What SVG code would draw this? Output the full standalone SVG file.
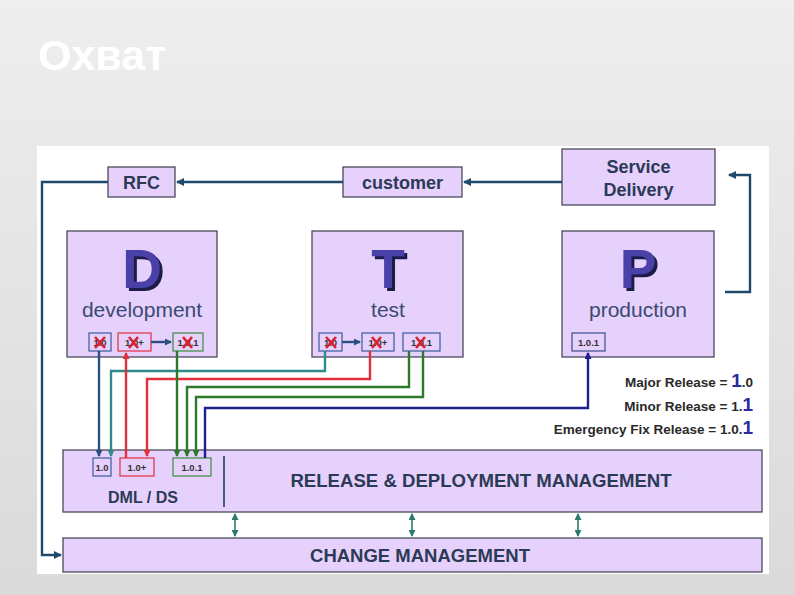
<svg xmlns="http://www.w3.org/2000/svg" width="794" height="595" viewBox="0 0 794 595">
<defs>
<linearGradient id="bg" x1="0" y1="0" x2="0" y2="1">
<stop offset="0" stop-color="#eeeeee"/>
<stop offset="1" stop-color="#dadada"/>
</linearGradient>
<filter id="shadow" x="-20%" y="-20%" width="150%" height="150%">
<feOffset in="SourceAlpha" dx="3" dy="3" result="o"/>
<feFlood flood-color="#1c1c48"/>
<feComposite in2="o" operator="in" result="s"/>
<feMerge><feMergeNode in="s"/><feMergeNode in="SourceGraphic"/></feMerge>
</filter>
<marker id="aNavy" markerWidth="8" markerHeight="8" refX="7" refY="4" orient="auto" markerUnits="userSpaceOnUse"><path d="M0,0 L8,4 L0,8 z" fill="#1f4a6e"/></marker>
<marker id="aBlue" markerWidth="7" markerHeight="7" refX="6" refY="3.5" orient="auto" markerUnits="userSpaceOnUse"><path d="M0,0 L7,3.5 L0,7 z" fill="#2a4f80"/></marker>
<marker id="aTeal" markerWidth="7" markerHeight="7" refX="6" refY="3.5" orient="auto" markerUnits="userSpaceOnUse"><path d="M0,0 L7,3.5 L0,7 z" fill="#2f8a8c"/></marker>
<marker id="aRed" markerWidth="7" markerHeight="7" refX="6" refY="3.5" orient="auto" markerUnits="userSpaceOnUse"><path d="M0,0 L7,3.5 L0,7 z" fill="#e0303a"/></marker>
<marker id="aGreen" markerWidth="7" markerHeight="7" refX="6" refY="3.5" orient="auto" markerUnits="userSpaceOnUse"><path d="M0,0 L7,3.5 L0,7 z" fill="#2a7a2a"/></marker>
<marker id="aInd" markerWidth="7" markerHeight="7" refX="6" refY="3.5" orient="auto" markerUnits="userSpaceOnUse"><path d="M0,0 L7,3.5 L0,7 z" fill="#1e1e8c"/></marker>
<marker id="aDT" markerWidth="7" markerHeight="7" refX="6" refY="3.5" orient="auto" markerUnits="userSpaceOnUse"><path d="M0,0 L7,3.5 L0,7 z" fill="#2a7a6e"/></marker>
<marker id="aDTs" markerWidth="7" markerHeight="7" refX="1" refY="3.5" orient="auto" markerUnits="userSpaceOnUse"><path d="M7,0 L0,3.5 L7,7 z" fill="#2a7a6e"/></marker>
</defs>
<style>
.box{fill:#e6d0fc;stroke:#4a4a5a;stroke-width:1.3}
.lbl{font-family:"Liberation Sans",Arial,sans-serif;font-weight:bold;fill:#2b3a55;text-anchor:middle}
.big{font-family:"Liberation Sans",Arial,sans-serif;font-weight:bold;font-size:55px;text-anchor:middle;fill:#4a3fa8;filter:url(#shadow)}
.sub{font-family:"Liberation Sans",Arial,sans-serif;font-size:21px;text-anchor:middle;fill:#3a4a72}
.tag{stroke-width:1.2;fill:#e6d0fc}
.tt{font-family:"Liberation Sans",Arial,sans-serif;font-weight:bold;font-size:9.5px;text-anchor:middle;fill:#333}
.x{stroke:#d8232e;stroke-width:2.6;fill:none}
.leg{font-family:"Liberation Sans",Arial,sans-serif;font-weight:bold;font-size:13.5px;text-anchor:end;fill:#2a2a2a}
.one{font-size:19px;fill:#2a2aa0}
.c{fill:none;stroke-width:2.4}
</style>
<rect width="794" height="595" fill="url(#bg)"/>
<text x="38" y="70" font-family="'Liberation Sans',Arial,sans-serif" font-weight="bold" font-size="43" fill="#ffffff">Охват</text>
<rect x="37" y="146" width="732" height="428" fill="#ffffff"/>

<g id="rfc"><rect class="box" x="108" y="167" width="67" height="30"/><text class="lbl" x="141.5" y="189" font-size="18">RFC</text></g>
<g id="customer"><rect class="box" x="343" y="167" width="119" height="30"/><text class="lbl" x="402.5" y="189" font-size="18">customer</text></g>
<g id="service-delivery"><rect class="box" x="562" y="149" width="153" height="56"/><text class="lbl" x="638.5" y="173" font-size="18">Service</text><text class="lbl" x="638.5" y="196" font-size="18">Delivery</text></g>

<g id="development"><rect class="box" x="67" y="231" width="150" height="126"/>
<text class="big" x="142" y="288">D</text>
<text class="sub" x="142" y="317">development</text></g>
<g id="test"><rect class="box" x="312" y="231" width="151" height="126"/>
<text class="big" x="388" y="288">T</text>
<text class="sub" x="388" y="317">test</text></g>
<g id="production"><rect class="box" x="562" y="231" width="152" height="126"/>
<text class="big" x="638" y="288">P</text>
<text class="sub" x="638" y="317">production</text></g>

<g id="rdm"><rect class="box" x="63" y="450" width="699" height="62"/>
<line x1="224" y1="456" x2="224" y2="507" stroke="#4a5a80" stroke-width="2"/>
<text class="lbl" x="481" y="487" font-size="18.6">RELEASE &amp; DEPLOYMENT MANAGEMENT</text>
<text class="lbl" x="143" y="503" font-size="16">DML / DS</text></g>
<g id="change-management"><rect class="box" x="63" y="538" width="699" height="34"/>
<text class="lbl" x="420" y="562" font-size="18.5">CHANGE MANAGEMENT</text></g>

<g id="tags">
<rect class="tag" x="89" y="333" width="22" height="18" stroke="#3b5b9a"/><text class="tt" x="100" y="345.5">1.0</text><path class="x" d="M95,337 L105,348 M105,337 L95,348"/>
<rect class="tag" x="118" y="333" width="33" height="18" stroke="#e0303a"/><text class="tt" x="134.5" y="345.5">1.0+</text><path class="x" d="M129,337 L138,348 M138,337 L129,348"/>
<rect class="tag" x="173" y="333" width="30" height="18" stroke="#3a8a3a"/><text class="tt" x="188" y="345.5">1.0.1</text><path class="x" d="M183,337 L192,348 M192,337 L183,348"/>
<rect class="tag" x="319" y="333" width="23" height="18" stroke="#3b5b9a"/><text class="tt" x="330.5" y="345.5">1.0</text><path class="x" d="M326,337 L336,348 M336,337 L326,348"/>
<rect class="tag" x="362" y="333" width="32" height="18" stroke="#3b5b9a"/><text class="tt" x="378" y="345.5">1.0+</text><path class="x" d="M372,337 L381,348 M381,337 L372,348"/>
<rect class="tag" x="403" y="333" width="37" height="18" stroke="#3b5b9a"/><text class="tt" x="421.5" y="345.5">1.0.1</text><path class="x" d="M416,337 L425,348 M425,337 L416,348"/>
<rect class="tag" x="572" y="333" width="33" height="18" stroke="#3b4b8a"/><text class="tt" x="588.5" y="345.5">1.0.1</text>
<rect class="tag" x="93" y="458" width="18" height="18" stroke="#3b5b9a"/><text class="tt" x="102" y="470.5">1.0</text>
<rect class="tag" x="120" y="458" width="34" height="18" stroke="#e0303a"/><text class="tt" x="137" y="470.5" fill="#d8232e">1.0+</text>
<rect class="tag" x="173" y="458" width="38" height="18" stroke="#3a8a3a"/><text class="tt" x="192" y="470.5" fill="#3a7a3a">1.0.1</text>
</g>

<g id="legend">
<text class="leg" x="753" y="387">Major Release  = <tspan class="one">1</tspan>.0</text>
<text class="leg" x="753" y="411">Minor Release = 1.<tspan class="one">1</tspan></text>
<text class="leg" x="753" y="434">Emergency Fix Release  = 1.0.<tspan class="one">1</tspan></text>
</g>

<g id="connectors">
<path class="c" d="M562,182 L464,182" stroke="#1f4a6e" marker-end="url(#aNavy)"/>
<path class="c" d="M343,182 L177,182" stroke="#1f4a6e" marker-end="url(#aNavy)"/>
<path class="c" d="M108,182 L42,182 L42,555 L61,555" stroke="#1f4a6e" marker-end="url(#aNavy)"/>
<path class="c" d="M725,292 L750,292 L750,175 L729,175" stroke="#1f4a6e" marker-end="url(#aNavy)"/>
<path class="c" d="M151,342 L171,342" stroke="#2a4f80" marker-end="url(#aBlue)"/>
<path class="c" d="M342,342 L360,342" stroke="#2a4f80" marker-end="url(#aBlue)"/>
<path class="c" d="M99,351 L99,456" stroke="#2a4f80" marker-end="url(#aBlue)"/>
<path class="c" d="M325,351 L325,371 L111,371 L111,456" stroke="#2f8a8c" marker-end="url(#aTeal)"/>
<path class="c" d="M126,458 L126,353" stroke="#e0303a" marker-end="url(#aRed)"/>
<path class="c" d="M370,351 L370,379 L147,379 L147,456" stroke="#e0303a" marker-end="url(#aRed)"/>
<path class="c" d="M177,351 L177,456" stroke="#2a7a2a" marker-end="url(#aGreen)"/>
<path class="c" d="M409,351 L409,387 L187,387 L187,456" stroke="#2a7a2a" marker-end="url(#aGreen)"/>
<path class="c" d="M423,351 L423,397 L196,397 L196,456" stroke="#2a7a2a" marker-end="url(#aGreen)"/>
<path class="c" d="M205,458 L205,408 L588,408 L588,353" stroke="#1e1e8c" marker-end="url(#aInd)"/>
<path d="M235,514 L235,536" stroke="#2a7a6e" stroke-width="1.6" marker-start="url(#aDTs)" marker-end="url(#aDT)"/>
<path d="M412,514 L412,536" stroke="#2a7a6e" stroke-width="1.6" marker-start="url(#aDTs)" marker-end="url(#aDT)"/>
<path d="M578,514 L578,536" stroke="#2a7a6e" stroke-width="1.6" marker-start="url(#aDTs)" marker-end="url(#aDT)"/>
</g>
</svg>
